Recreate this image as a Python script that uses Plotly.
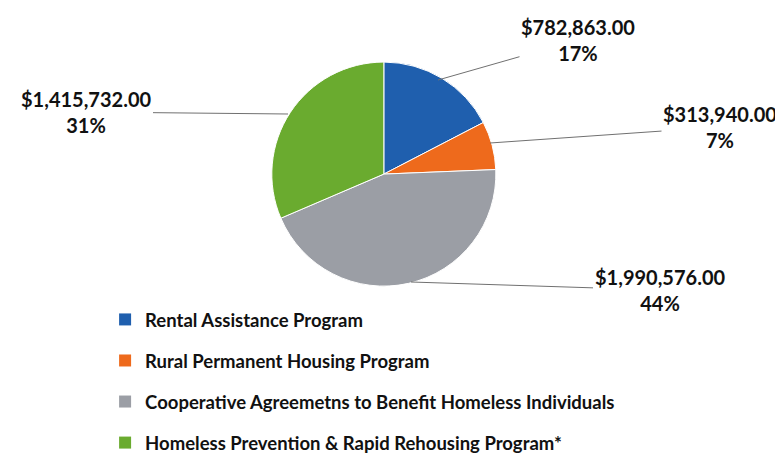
import plotly.graph_objects as go

categories = [
    "Rental Assistance Program",
    "Rural Permanent Housing Program",
    "Cooperative Agreemetns to Benefit Homeless Individuals",
    "Homeless Prevention & Rapid Rehousing Program*",
]
amounts = [782863.00, 313940.00, 1990576.00, 1415732.00]
percent_labels = ["17%", "7%", "44%", "31%"]
colors = ["#1f5fae", "#ee6a1c", "#9b9ea5", "#6aab2f"]

FONT = "Lato, 'Open Sans', sans-serif"

fig = go.Figure()
fig.add_trace(go.Pie(
    labels=categories,
    values=amounts,
    sort=False,
    direction="clockwise",
    rotation=0,
    marker=dict(colors=colors, line=dict(color="white", width=1)),
    textinfo="none",
    hoverinfo="label+value+percent",
    showlegend=False,
    domain=dict(x=[0.3, 0.66], y=[0.398, 0.883]),
))

# legend entries (one group each so the spacing matches the reference)
for name, col in zip(categories, colors):
    fig.add_trace(go.Scatter(
        x=[None], y=[None], mode="markers", name=f"<b>{name}</b>", legendgroup=name,
        marker=dict(symbol="square", size=12, color=col),
    ))

# value labels with leader lines
label_pos = [  # (text x, text y, tip x, tip y) in pixels
    (570, 32, 430, 72),
    (712, 119, 482, 135),
    (652, 282, 403, 274),
    (78, 104, 280, 106),
]
W, H = 783, 462
for amt, pct, (tx, ty, px, py) in zip(amounts, percent_labels, label_pos):
    fig.add_annotation(
        x=px / W, y=1 - py / H, xref="paper", yref="paper",
        ax=tx - px, ay=ty - py, axref="pixel", ayref="pixel",
        text=f"<b>${amt:,.2f}</b><br><b>{pct}</b>",
        showarrow=True, arrowhead=0, arrowwidth=1, arrowcolor="#707070",
        font=dict(family=FONT, size=20, color="#111111"),
        align="center",
    )

fig.update_layout(
    width=W, height=H,
    margin=dict(l=0, r=0, t=0, b=0),
    paper_bgcolor="white", plot_bgcolor="white",
    xaxis=dict(visible=False), yaxis=dict(visible=False),
    showlegend=True,
    legend=dict(
        x=0.124, y=0.366, xanchor="left", yanchor="top",
        font=dict(family=FONT, size=18.5, color="#111111"),
        tracegroupgap=14, bgcolor="rgba(0,0,0,0)",
    ),
    font=dict(family=FONT),
)

fig.write_html("out.html")
